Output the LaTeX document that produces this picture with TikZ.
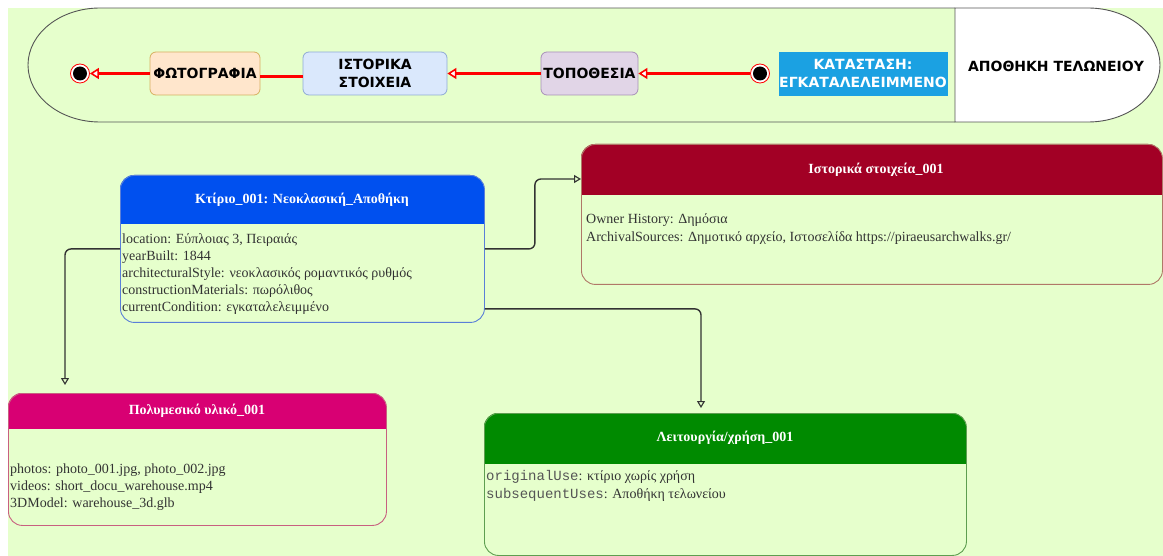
\documentclass[tikz,border=0pt]{standalone}
\usepackage{fontspec}
\setmainfont{Liberation Serif}
\newfontfamily\lblfont{DejaVu Sans}
\newfontfamily\mymono{Liberation Mono}
\usetikzlibrary{arrows.meta,calc}
\definecolor{bggreen}{HTML}{E6FFCC}
\definecolor{poolc}{HTML}{555555}
\definecolor{peach}{HTML}{FFE6CC}\definecolor{peachb}{HTML}{D7B060}
\definecolor{lblue}{HTML}{DAE8FC}\definecolor{lblueb}{HTML}{8FAAD6}
\definecolor{lpurp}{HTML}{E1D5E7}\definecolor{lpurpb}{HTML}{A890B8}
\definecolor{cyanb}{HTML}{1BA1E2}
\definecolor{hblue}{HTML}{0050EF}\definecolor{bblue}{HTML}{5A7FD8}
\definecolor{hred}{HTML}{A20025}\definecolor{bred}{HTML}{B07868}
\definecolor{hmag}{HTML}{D80073}\definecolor{bmag}{HTML}{C86080}
\definecolor{hgrn}{HTML}{008A00}\definecolor{bgrn}{HTML}{5E9E50}
\definecolor{txt}{HTML}{333333}
\definecolor{monoc}{HTML}{555555}
\definecolor{connc}{HTML}{333333}
\tikzset{
  statebox/.style={rectangle, rounded corners=6pt, line width=0.8pt, align=center,
    font=\lblfont\bfseries\fontsize{14}{17.5}\selectfont, inner sep=0pt},
  redarrow/.style={draw=red, line width=2.6pt,
    -{Triangle[open, fill=white, length=9pt, width=11pt, line width=1.6pt]}},
  redline/.style={draw=red, line width=2.6pt},
  classbox/.style={rectangle, rounded corners=14pt, line width=0.9pt, inner sep=0pt, anchor=north west},
  ctitle/.style={text=white, font=\bfseries\fontsize{14}{16}\selectfont, inner sep=0pt},
  cline/.style={anchor=base west, inner sep=0pt, text=txt, font=\fontsize{14}{17}\selectfont},
  conn/.style={draw=connc, line width=1.4pt, rounded corners=6pt,
    -{Triangle[open, length=7pt, width=8pt, line width=1.1pt]}},
}
\begin{document}
\begin{tikzpicture}[x=1pt,y=-1pt]
\useasboundingbox (0,0) rectangle (1163,556);
\fill[white] (0,0) rectangle (1163,556);
\fill[bggreen] (8,8) rectangle (1163,556);
% pool
\draw[draw=poolc, line width=0.9pt, fill=white] (955,8) -- (1088,8)
   arc[start angle=90, end angle=-90, x radius=72pt, y radius=57pt] -- (955,122) -- cycle;
\draw[draw=poolc, line width=0.9pt] (955,122) -- (100,122)
   arc[start angle=270, end angle=90, x radius=72pt, y radius=57pt] -- (955,8);
\node[font=\lblfont\bfseries\fontsize{14}{16}\selectfont, inner sep=0pt] (pool) at (1056,66) {ΑΠΟΘΗΚΗ ΤΕΛΩΝΕΙΟΥ};
% states
\node[statebox, fill=peach, draw=peachb, minimum width=110pt, minimum height=43pt] (foto) at (205,73.5) {ΦΩΤΟΓΡΑΦΙΑ};
\node[statebox, fill=lblue, draw=lblueb, minimum width=144pt, minimum height=43pt] (ist) at (375,73.5) {ΙΣΤΟΡΙΚΑ\\ΣΤΟΙΧΕΙΑ};
\node[statebox, fill=lpurp, draw=lpurpb, minimum width=97pt, minimum height=43pt] (topo) at (589.5,73.5) {ΤΟΠΟΘΕΣΙΑ};
\node[statebox, rounded corners=0pt, fill=cyanb, draw=cyanb, text=white, minimum width=168pt, minimum height=43pt] (kat) at (863,73.5) {ΚΑΤΑΣΤΑΣΗ:\\ΕΓΚΑΤΑΛΕΛΕΙΜΜΕΝΟ};
\node[circle, draw=red, fill=white, line width=0.8pt, minimum size=19pt, inner sep=0pt] (startc) at (760,73.5) {};
\fill[black] (startc.center) circle[radius=7pt];
\node[circle, draw=red, fill=white, line width=0.8pt, minimum size=19pt, inner sep=0pt] (endc) at (80,73.5) {};
\fill[black] (endc.center) circle[radius=7pt];
\draw[redarrow] (startc.west) -- (topo.east);
\draw[redarrow] (topo.west) -- (ist.east);
\draw[redline] ($(ist.west)+(0,3)$) -- ($(foto.east)+(0,3)$);
\draw[redarrow] (foto.west) -- (endc.east);
% class: Κτίριο
\begin{scope}\clip (120,175) rectangle (484,224);
\fill[hblue, rounded corners=14pt] (120,175) rectangle (484,322);\end{scope}
\node[classbox, draw=bblue, minimum width=364pt, minimum height=147pt] (kt) at (120,175) {};
\node[ctitle] (ktt) at (302,200) {Κτίριο\_001: Νεοκλασική\_Αποθήκη};
\node[cline] (kt1) at (122,244) {location: Εύπλοιας 3, Πειραιάς};
\node[cline] (kt2) at (122,261) {yearBuilt: 1844};
\node[cline] (kt3) at (122,278) {architecturalStyle: νεοκλασικός ρομαντικός ρυθμός};
\node[cline] (kt4) at (122,295) {constructionMaterials: πωρόλιθος};
\node[cline] (kt5) at (122,312) {currentCondition: εγκαταλελειμμένο};
% class: Ιστορικά
\begin{scope}\clip (581,144) rectangle (1162,195);
\fill[hred, rounded corners=14pt] (581,144) rectangle (1162,284);\end{scope}
\node[classbox, draw=bred, minimum width=581pt, minimum height=140pt] (hist) at (581,144) {};
\node[ctitle] (histt) at (876,169.5) {Ιστορικά στοιχεία\_001};
\node[cline] (h1) at (586,224) {Owner History: Δημόσια};
\node[cline] (h2) at (586,242) {ArchivalSources: Δημοτικό αρχείο, Ιστοσελίδα https://piraeusarchwalks.gr/};
% class: Πολυμεσικό
\begin{scope}\clip (8,393) rectangle (386,428);
\fill[hmag, rounded corners=14pt] (8,393) rectangle (386,525);\end{scope}
\node[classbox, draw=bmag, minimum width=378pt, minimum height=132pt] (media) at (8,393) {};
\node[ctitle] (mediat) at (197,411) {Πολυμεσικό υλικό\_001};
\node[cline] (m1) at (10,473) {photos: photo\_001.jpg, photo\_002.jpg};
\node[cline] (m2) at (10,490) {videos: short\_docu\_warehouse.mp4};
\node[cline] (m3) at (10,507) {3DModel: warehouse\_3d.glb};
% class: Λειτουργία
\begin{scope}\clip (484,413) rectangle (966,463);
\fill[hgrn, rounded corners=14pt] (484,413) rectangle (966,555);\end{scope}
\node[classbox, draw=bgrn, minimum width=482pt, minimum height=142pt] (func) at (484,413) {};
\node[ctitle] (funct) at (725,438) {Λειτουργία/χρήση\_001};
\node[cline] (f1) at (486,480) {{\mymono\color{monoc}originalUse}: κτίριο χωρίς χρήση};
\node[cline] (f2) at (486,498) {{\mymono\color{monoc}subsequentUses}: Αποθήκη τελωνείου};
% connectors
\coordinate (hB) at ($(hist.north west)+(0,35)$);
\draw[conn] (kt.east) -- ($(kt.east)+(50,0)$) |- (hB);
\coordinate (mA) at ($(media.north west)+(57,0)$);
\draw[conn, shorten >=8pt] (kt.west) -| (mA);
\coordinate (kC) at ($(kt.south east)+(0,-14)$);
\coordinate (fC) at ($(func.north west)+(217,0)$);
\draw[conn, shorten >=5pt] (kC) -| (fC);
\end{tikzpicture}
\end{document}
